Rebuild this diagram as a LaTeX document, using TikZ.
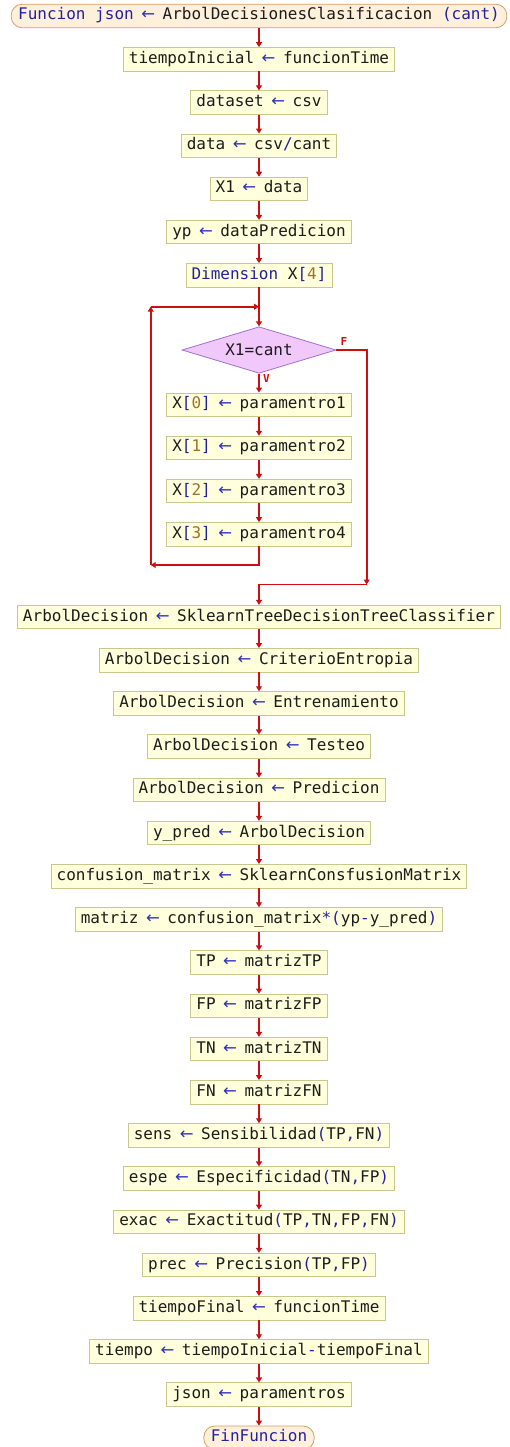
\documentclass[tikz,border=0pt]{standalone}
\usepackage{fontspec}
\setmonofont{DejaVu Sans Mono}
\newfontfamily\arrowfont{DejaVu Sans}
\usetikzlibrary{arrows.meta,shapes.geometric}
\definecolor{boxfill}{HTML}{FFFFDC}
\definecolor{boxborder}{HTML}{C8C88C}
\definecolor{termfill}{HTML}{FFF0DC}
\definecolor{termborder}{HTML}{D2A064}
\definecolor{diafill}{HTML}{F0C8FA}
\definecolor{diaborder}{HTML}{A070D0}
\definecolor{arrowred}{HTML}{CC1010}
\definecolor{kwblue}{HTML}{22229E}
\definecolor{asgblue}{HTML}{3030C0}
\definecolor{numbrown}{HTML}{A07030}
\definecolor{txt}{HTML}{1C1C1C}
\newcommand\myasg{\makebox[9.63pt]{\textcolor{asgblue}{\arrowfont\fontsize{16.5}{17}\selectfont ←}}}
\newcommand\kw[1]{\textcolor{kwblue}{#1}}
\newcommand\nm[1]{\textcolor{numbrown}{#1}}
\newcommand\opr[1]{\textcolor{kwblue}{#1}}
\tikzset{
  proc/.style={draw=boxborder, fill=boxfill, line width=0.8pt, inner xsep=5.5pt, inner ysep=0pt,
    minimum height=23.5pt, text height=11.5pt, text depth=3.5pt,
    font=\ttfamily\fontsize{16}{19}\selectfont, text=txt},
  term/.style={proc, draw=termborder, fill=termfill, rounded corners=11pt, inner xsep=7pt},
  cond/.style={diamond, aspect=3.3, draw=diaborder, fill=diafill, line width=0.8pt, inner sep=0pt,
    minimum width=154pt, minimum height=46.5pt, font=\ttfamily\fontsize{16}{19}\selectfont, text=txt},
  lbl/.style={text=arrowred, font=\ttfamily\bfseries\fontsize{11}{12}\selectfont, inner sep=0pt},
  flow/.style={draw=arrowred, line width=1.6pt, -{Triangle[length=5pt,width=6pt]}}
}
\begin{document}
\begin{tikzpicture}[x=1pt,y=-1pt]
\useasboundingbox (0,0) rectangle (509,1447);
\node[term] (start) at (259,16) {\kw{Funcion json} \myasg{} ArbolDecisionesClasificacion \kw{(cant)}};
\node[proc] (t1) at (259,59.3) {tiempoInicial \myasg{} funcionTime};
\node[proc] (t2) at (259,102.5) {dataset \myasg{} csv};
\node[proc] (t3) at (259,145.7) {data \myasg{} csv\opr{/}cant};
\node[proc] (t4) at (259,188.9) {X1 \myasg{} data};
\node[proc] (t5) at (259,232.1) {yp \myasg{} dataPredicion};
\node[proc] (t6) at (259,275.3) {\kw{Dimension} X\opr{[}\nm{4}\opr{]}};
\coordinate (jtop) at (259,306.7);
\coordinate (ltop) at (150.7,306.7);
\node[cond] (cond) at (259,350) {X1=cant};
\node[lbl] (lf) at (344,341.5) {F};
\node[lbl] (lv) at (266.5,378.5) {V};
\node[proc] (x0) at (259,404.7) {X\opr{[}\nm{0}\opr{]} \myasg{} paramentro1};
\node[proc] (x1) at (259,447.9) {X\opr{[}\nm{1}\opr{]} \myasg{} paramentro2};
\node[proc] (x2) at (259,491.1) {X\opr{[}\nm{2}\opr{]} \myasg{} paramentro3};
\node[proc] (x3) at (259,534.3) {X\opr{[}\nm{3}\opr{]} \myasg{} paramentro4};
\coordinate (lbot) at (150.7,565);
\coordinate (fbot) at (366.7,584.5);
\node[proc] (a1) at (259,617) {ArbolDecision \myasg{} SklearnTreeDecisionTreeClassifier};
\node[proc] (a2) at (259,660.2) {ArbolDecision \myasg{} CriterioEntropia};
\node[proc] (a3) at (259,703.4) {ArbolDecision \myasg{} Entrenamiento};
\node[proc] (a4) at (259,746.6) {ArbolDecision \myasg{} Testeo};
\node[proc] (a5) at (259,789.8) {ArbolDecision \myasg{} Predicion};
\node[proc] (a6) at (259,833) {y\_pred \myasg{} ArbolDecision};
\node[proc] (a7) at (259,876.2) {confusion\_matrix \myasg{} SklearnConsfusionMatrix};
\node[proc] (a8) at (259,919.4) {matriz \myasg{} confusion\_matrix\opr{*(}yp\opr{-}y\_pred\opr{)}};
\node[proc] (a9) at (259,962.6) {TP \myasg{} matrizTP};
\node[proc] (a10) at (259,1005.8) {FP \myasg{} matrizFP};
\node[proc] (a11) at (259,1049) {TN \myasg{} matrizTN};
\node[proc] (a12) at (259,1092.2) {FN \myasg{} matrizFN};
\node[proc] (a13) at (259,1135.4) {sens \myasg{} Sensibilidad\opr{(}TP\opr{,}FN\opr{)}};
\node[proc] (a14) at (259,1178.6) {espe \myasg{} Especificidad\opr{(}TN\opr{,}FP\opr{)}};
\node[proc] (a15) at (259,1221.8) {exac \myasg{} Exactitud\opr{(}TP\opr{,}TN\opr{,}FP\opr{,}FN\opr{)}};
\node[proc] (a16) at (259,1265) {prec \myasg{} Precision\opr{(}TP\opr{,}FP\opr{)}};
\node[proc] (a17) at (259,1308.2) {tiempoFinal \myasg{} funcionTime};
\node[proc] (a18) at (259,1351.4) {tiempo \myasg{} tiempoInicial\opr{-}tiempoFinal};
\node[proc] (a19) at (259,1394.6) {json \myasg{} paramentros};
\node[term] (end) at (259,1437.8) {\kw{FinFuncion}};
\foreach \a/\b in {start/t1,t1/t2,t2/t3,t3/t4,t4/t5,t5/t6,t6/cond,cond/x0,x0/x1,x1/x2,x2/x3,
  a1/a2,a2/a3,a3/a4,a4/a5,a5/a6,a6/a7,a7/a8,a8/a9,a9/a10,a10/a11,a11/a12,a12/a13,a13/a14,
  a14/a15,a15/a16,a16/a17,a17/a18,a18/a19,a19/end}
  \draw[flow] (\a.south) -- (\b.north);
\draw[flow] (x3.south) |- (lbot);
\draw[flow] (lbot) -- (ltop);
\draw[flow] (ltop) -- (jtop);
\draw[flow] (cond.east) -| (fbot);
\draw[flow] (fbot) -| (a1.north);
\end{tikzpicture}
\end{document}
